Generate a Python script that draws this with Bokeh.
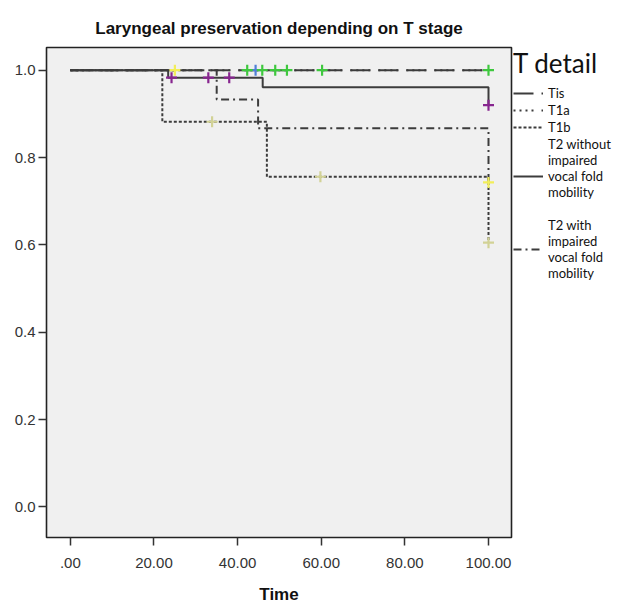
from bokeh.plotting import figure
from bokeh.layouts import row
from bokeh.models import Range1d, FixedTicker, Legend, LegendItem
from bokeh.embed import file_html
from bokeh.resources import INLINE

# ---- data ----
groups = ["Tis", "T1a", "T1b", "T2 without impaired vocal fold mobility",
          "T2 with impaired vocal fold mobility"]
legend_labels = ["Tis", "T1a", "T1b",
                 "T2 without\nimpaired\nvocal fold\nmobility\n\u00a0",
                 "T2 with\nimpaired\nvocal fold\nmobility"]

# event times and survival after each event
tis_events = [];              tis_surv = []
t1a_events = [];              t1a_surv = []
t1b_events = [22.0, 47.0, 100.0];   t1b_surv = [0.882, 0.756, 0.605]
t2wo_events = [23.4, 46.0, 100.0];  t2wo_surv = [0.983, 0.961, 0.920]
t2w_events = [35.0, 44.9, 100.0];   t2w_surv = [0.933, 0.867, 0.743]

# censored observations (time)
tis_cens = [44.3]
t1a_cens = [42.3, 45.9, 49.0, 51.8, 60.2, 100.0]
t1b_cens = [33.9, 59.8, 100.0]
t2wo_cens = [24.2, 33.0, 38.0, 100.0]
t2w_cens = [25.0, 100.0]

max_time = 100.0

x_ticks = [0, 20, 40, 60, 80, 100]
x_tick_labels = [".00", "20.00", "40.00", "60.00", "80.00", "100.00"]
y_ticks = [0.0, 0.2, 0.4, 0.6, 0.8, 1.0]
y_tick_labels = ["0.0", "0.2", "0.4", "0.6", "0.8", "1.0"]

# ---- styles ----
line_dashes = ["20 8", "2 4 2 4 2 4 2 8", "3 2", "solid", "8 4 2 4"]
mark_colors = ["#4f7fd8", "#3ec83e", "#d2d296", "#87258f", "#f2ee5a"]
curve_color = "#3c3c3c"


def km_steps(events, surv, tmax):
    xs, ys = [0.0], [1.0]
    cur = 1.0
    for t, s in zip(events, surv):
        xs += [t, t]
        ys += [cur, s]
        cur = s
    if xs[-1] < tmax:
        xs.append(tmax)
        ys.append(cur)
    return xs, ys


def surv_at(events, surv, t):
    cur = 1.0
    for e, s in zip(events, surv):
        if e <= t:
            cur = s
    return cur


H = 606
MAIN_W, LEG_W = 513, 123
BL, BR, BT, BB = 46, 2, 42, 68

p = figure(width=MAIN_W, height=H, output_backend="svg", toolbar_location=None,
           x_range=Range1d(-5.7, 105.5), y_range=Range1d(-0.07, 1.052),
           title="Laryngeal preservation depending on T stage",
           min_border_left=BL, min_border_right=BR, min_border_top=BT,
           min_border_bottom=BB)

p.title.align = "center"
p.title.text_font = "Liberation Sans"
p.title.text_font_size = "17px"
p.title.text_font_style = "bold"
p.title.text_color = "#111111"
p.title.standoff = 19

p.background_fill_color = "#f0f0f0"
p.border_fill_color = "white"
p.outline_line_color = "#222222"
p.outline_line_width = 1.6
p.xgrid.visible = False
p.ygrid.visible = False

for ax in (p.xaxis[0], p.yaxis[0]):
    ax.axis_line_color = None
    ax.major_tick_in = 0
    ax.major_tick_out = 8
    ax.major_tick_line_color = "#333333"
    ax.major_tick_line_width = 1.5
    ax.minor_tick_line_color = None
    ax.major_label_text_font = "Liberation Sans"
    ax.major_label_text_font_size = "15px"
    ax.major_label_text_color = "#333333"

p.xaxis.ticker = FixedTicker(ticks=x_ticks)
p.xaxis.major_label_overrides = {t: l for t, l in zip(x_ticks, x_tick_labels)}
p.yaxis.ticker = FixedTicker(ticks=y_ticks)
p.yaxis.major_label_overrides = {t: l for t, l in zip(y_ticks, y_tick_labels)}
p.xaxis.major_label_standoff = 12
p.yaxis.major_label_standoff = 3
p.xaxis.axis_label = "Time"
p.xaxis.axis_label_text_font = "Liberation Sans"
p.xaxis.axis_label_text_font_size = "17px"
p.xaxis.axis_label_text_font_style = "bold"
p.xaxis.axis_label_text_color = "#111111"
p.xaxis.axis_label_standoff = 14

all_events = [tis_events, t1a_events, t1b_events, t2wo_events, t2w_events]
all_surv = [tis_surv, t1a_surv, t1b_surv, t2wo_surv, t2w_surv]
all_cens = [tis_cens, t1a_cens, t1b_cens, t2wo_cens, t2w_cens]

curves = []
for i in range(len(groups)):
    xs, ys = km_steps(all_events[i], all_surv[i], max_time)
    curves.append((xs, ys))
    p.line(xs, ys, line_color=curve_color, line_width=2,
           line_dash=line_dashes[i])

for i in range(len(groups)):
    cx = all_cens[i]
    cy = [surv_at(all_events[i], all_surv[i], t) for t in cx]
    p.scatter(cx, cy, marker="cross", size=11, line_width=2.2,
              line_color=mark_colors[i])

# ---- legend panel to the right of the plot frame ----
# (ranges chosen so the proxy curves themselves fall outside the view;
#  only their legend glyphs are shown)
lf = figure(width=LEG_W, height=H, output_backend="svg", toolbar_location=None,
            x_axis_type=None, y_axis_type=None,
            x_range=Range1d(-20, -10), y_range=Range1d(-20, -10),
            min_border_left=0, min_border_right=0, min_border_top=47,
            min_border_bottom=0)
lf.outline_line_color = None
lf.background_fill_color = "white"
lf.border_fill_color = "white"

items = []
for i in range(len(groups)):
    xs, ys = curves[i]
    r = lf.line(xs, ys, line_color=curve_color, line_width=2,
                line_dash=line_dashes[i])
    items.append(LegendItem(label=legend_labels[i], renderers=[r]))

legend = Legend(items=items, location="top_left")
legend.title = "T detail"
legend.title_text_font = "Lato"
legend.title_text_font_size = "26px"
legend.title_text_font_style = "normal"
legend.title_text_color = "#111111"
legend.title_standoff = 6
legend.label_text_font = "Lato"
legend.label_text_font_size = "13px"
legend.label_text_line_height = 1.32
legend.label_text_color = "#111111"
legend.label_height = 14
legend.label_standoff = 5
legend.glyph_width = 30
legend.glyph_height = 14
legend.spacing = 1
legend.border_line_color = None
legend.background_fill_alpha = 0
legend.margin = 0
legend.padding = 2
lf.add_layout(legend)

layout = row(p, lf)
open("out.html", "w").write(file_html(layout, INLINE))
